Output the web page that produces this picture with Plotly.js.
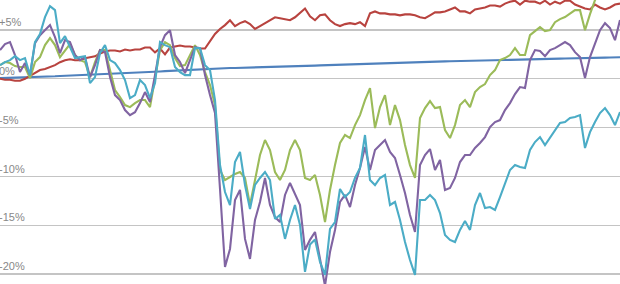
<!DOCTYPE html>
<html>
<head>
<meta charset="utf-8">
<script src="https://cdn.plot.ly/plotly-3.0.1.min.js"></script>
<style>
  html, body { margin: 0; padding: 0; background: #fff; }
  #chart { width: 620px; height: 284px; }
</style>
</head>
<body>
<div id="chart"></div>
<script>
// Percent change series (one value every sampled period)
const redSeries = [
  0.0, -0.1, -0.1, -0.2, -0.2, 0.0, 0.3, 0.6, 0.9, 1.0,
  1.2, 1.4, 1.7, 1.9, 2.0, 1.9, 1.9, 2.1, 2.2, 2.3,
  2.6, 2.8, 2.9, 2.9, 2.8, 3.0, 2.9, 3.0, 3.0, 3.2,
  3.2, 2.7, 3.1, 2.5, 3.2, 3.3, 3.4, 3.3, 3.3, 3.2,
  3.1, 3.1, 3.9, 4.6, 5.1, 5.5, 6.0, 5.4, 5.7, 5.9,
  5.6, 5.1, 5.4, 5.7, 6.0, 6.3, 6.2, 6.1, 6.0, 6.3,
  6.8, 7.2, 6.4, 6.0, 6.5, 6.6, 6.0, 5.6, 5.4, 5.6,
  5.7, 5.6, 5.8, 5.4, 6.7, 6.9, 6.7, 6.7, 6.6, 6.6,
  6.5, 6.6, 6.6, 6.5, 6.3, 6.2, 6.5, 6.8, 6.8, 6.9,
  7.1, 7.3, 6.9, 6.9, 6.7, 7.1, 7.2, 7.3, 7.5, 7.5,
  7.4, 7.7, 7.9, 8.0, 7.6, 8.0, 7.9, 7.9, 7.7, 8.0,
  7.6, 7.9, 7.7, 8.0, 8.0, 7.6, 7.4, 7.2, 7.1, 7.6,
  7.3, 7.1, 7.3, 7.6, 7.7
];
const blueSeries = [
  0.07, 0.08, 0.10, 0.11, 0.13, 0.14, 0.16, 0.18, 0.20, 0.22,
  0.24, 0.26, 0.29, 0.31, 0.33, 0.35, 0.38, 0.40, 0.42, 0.45,
  0.48, 0.50, 0.52, 0.55, 0.57, 0.59, 0.61, 0.63, 0.65, 0.67,
  0.69, 0.72, 0.75, 0.78, 0.81, 0.84, 0.87, 0.90, 0.93, 0.96,
  0.99, 1.02, 1.05, 1.06, 1.07, 1.08, 1.10, 1.11, 1.12, 1.13,
  1.15, 1.16, 1.18, 1.19, 1.20, 1.22, 1.23, 1.25, 1.26, 1.28,
  1.30, 1.32, 1.33, 1.35, 1.37, 1.39, 1.40, 1.42, 1.44, 1.46,
  1.47, 1.49, 1.51, 1.52, 1.54, 1.56, 1.58, 1.59, 1.61, 1.63,
  1.64, 1.66, 1.67, 1.69, 1.70, 1.72, 1.73, 1.75, 1.76, 1.78,
  1.79, 1.81, 1.82, 1.83, 1.85, 1.86, 1.87, 1.88, 1.90, 1.91,
  1.92, 1.93, 1.94, 1.96, 1.97, 1.98, 2.00, 2.01, 2.02, 2.03,
  2.05, 2.06, 2.07, 2.08, 2.10, 2.11, 2.12, 2.13, 2.14, 2.15,
  2.16, 2.17, 2.18, 2.19, 2.20
];
const greenSeries = [
  1.40, 1.71, 1.61, 1.30, 1.20, 1.20, 0.07, 1.71, 2.22, 3.45,
  4.17, 3.45, 2.22, 2.94, 3.55, 2.43, 1.91, 1.71, 0.17, 1.71,
  2.94, 2.94, 0.89, -1.16, -1.87, -2.69, -2.90, -2.49, -2.18, -2.18,
  -2.90, -0.13, 2.94, 3.76, 3.45, 2.12, 1.30, 1.40, 2.43, 3.45,
  2.43, 0.69, -0.64, -2.69, -9.34, -10.37, -10.06, -9.75, -9.55, -10.16,
  -12.93, -10.16, -7.81, -6.27, -7.30, -9.55, -10.37, -9.34, -7.30, -6.27,
  -7.30, -10.16, -10.37, -9.86, -11.90, -14.67, -11.39, -8.83, -6.58, -5.76,
  -6.07, -4.74, -3.72, -2.18, -0.95, -5.05, -2.90, -1.67, -4.74, -2.69,
  -4.23, -6.79, -8.84, -10.16, -4.02, -3.00, -2.28, -3.00, -2.90, -5.25,
  -6.07, -4.74, -2.69, -2.18, -2.90, -1.36, -0.85, -0.54, 0.38, 0.89,
  1.91, 2.12, 2.43, 3.14, 2.43, 2.43, 4.47, 4.88, 5.29, 4.88,
  4.98, 5.80, 6.11, 6.32, 6.72, 7.03, 7.03, 4.98, 6.62, 8.06,
  8.90, 9.30, 9.30, 9.30, 9.30
];
const purpleSeries = [
  2.94, 3.55, 3.76, 2.43, 0.69, 1.61, 0.38, 3.65, 4.47, 4.98,
  5.50, 4.27, 2.63, 3.96, 3.76, 2.43, 1.91, 2.22, 0.17, 1.40,
  2.94, 2.73, 0.17, -1.67, -2.18, -3.20, -3.73, -3.42, -2.49, -1.36,
  -2.38, 0.38, 3.24, 4.47, 4.98, 2.43, 1.71, 0.58, 1.91, 3.24,
  3.14, 0.38, -1.67, -3.50, -11.29, -19.27, -17.43, -12.42, -11.39, -16.40,
  -18.45, -14.46, -12.62, -10.16, -12.93, -14.16, -14.67, -11.90, -10.67, -11.90,
  -12.93, -17.53, -16.50, -15.69, -18.35, -21.20, -17.74, -15.49, -12.62, -11.90,
  -13.14, -10.88, -9.14, -6.99, -9.34, -7.30, -6.79, -6.27, -7.50, -8.12,
  -9.86, -11.70, -13.96, -15.69, -8.83, -7.81, -7.20, -9.34, -8.32, -11.39,
  -11.19, -10.16, -8.53, -7.81, -7.81, -7.09, -6.58, -5.97, -4.94, -4.43,
  -4.23, -3.20, -2.49, -1.57, -0.85, -0.95, 1.91, 2.94, 2.84, 2.32,
  2.94, 3.14, 3.45, 3.76, 3.45, 2.73, 2.22, 0.07, 2.22, 3.65,
  4.98, 5.70, 5.19, 3.96, 6.01
];
const tealSeries = [
  1.40, 1.71, 1.91, 2.32, 1.91, 2.12, 0.38, 3.76, 4.58, 6.32,
  7.44, 7.03, 3.65, 4.37, 3.24, 2.12, 2.22, 2.32, -0.44, 0.17,
  2.63, 3.45, 1.91, 1.61, 0.89, -0.13, -1.98, -1.67, -0.13, -0.64,
  -1.98, -0.44, 3.76, 3.45, 3.24, 1.20, 0.69, 0.38, 0.38, 3.14,
  3.14, 1.40, 0.89, -2.18, -8.83, -11.60, -12.93, -8.53, -7.50, -10.88,
  -13.34, -10.88, -10.16, -9.55, -10.37, -14.36, -13.95, -16.40, -14.46, -12.93,
  -14.97, -19.78, -16.97, -16.46, -18.76, -20.09, -15.38, -14.67, -11.29, -12.11,
  -11.60, -10.16, -9.14, -5.76, -10.37, -10.88, -10.16, -9.86, -12.93, -12.62,
  -14.46, -16.72, -18.56, -20.09, -12.42, -12.42, -11.90, -12.42, -13.75, -15.99,
  -16.51, -16.72, -15.48, -14.57, -15.48, -12.93, -11.70, -13.24, -13.14, -13.44,
  -12.11, -10.68, -9.34, -8.83, -9.04, -9.14, -7.30, -6.48, -5.97, -6.79,
  -6.07, -5.25, -4.53, -4.43, -4.02, -3.92, -3.72, -7.09, -5.46, -4.43,
  -3.51, -3.00, -3.72, -4.74, -3.41
];
const tickValues = [-20, -15, -10, -5, 0, 5];
const tickLabels = ['-20%', '-15%', '-10%', '-5%', '0%', '+5%'];

const periods = redSeries.map((_, i) => i);

const seriesList = [
  { y: blueSeries,   color: '#4F81BD' },
  { y: redSeries,    color: '#B8433F' },
  { y: greenSeries,  color: '#9BBB59' },
  { y: purpleSeries, color: '#8064A2' },
  { y: tealSeries,   color: '#4BACC6' }
];

const traces = seriesList.map(s => ({
  type: 'scatter',
  mode: 'lines',
  x: periods,
  y: s.y,
  line: { color: s.color, width: 2.1 },
  hoverinfo: 'skip'
}));

const layout = {
  width: 620,
  height: 284,
  margin: { l: 0, r: 0, t: 0, b: 0, pad: 0 },
  paper_bgcolor: '#ffffff',
  plot_bgcolor: '#ffffff',
  showlegend: false,
  xaxis: {
    range: [0, periods.length - 1],
    showgrid: false,
    zeroline: false,
    showline: false,
    showticklabels: false,
    ticks: ''
  },
  yaxis: {
    range: [-21.02, 8.07],
    tickvals: tickValues,
    ticktext: tickLabels,
    ticklabelposition: 'inside top',
    ticklabelstandoff: -4,
    tickfont: { family: 'Liberation Sans, Arial, sans-serif', size: 11, color: '#888888' },
    showgrid: true,
    gridcolor: '#c4c4c4',
    gridwidth: 1.3,
    zeroline: false,
    showline: false,
    ticks: ''
  }
};

Plotly.newPlot('chart', traces, layout, { staticPlot: true, displayModeBar: false });
</script>
</body>
</html>
